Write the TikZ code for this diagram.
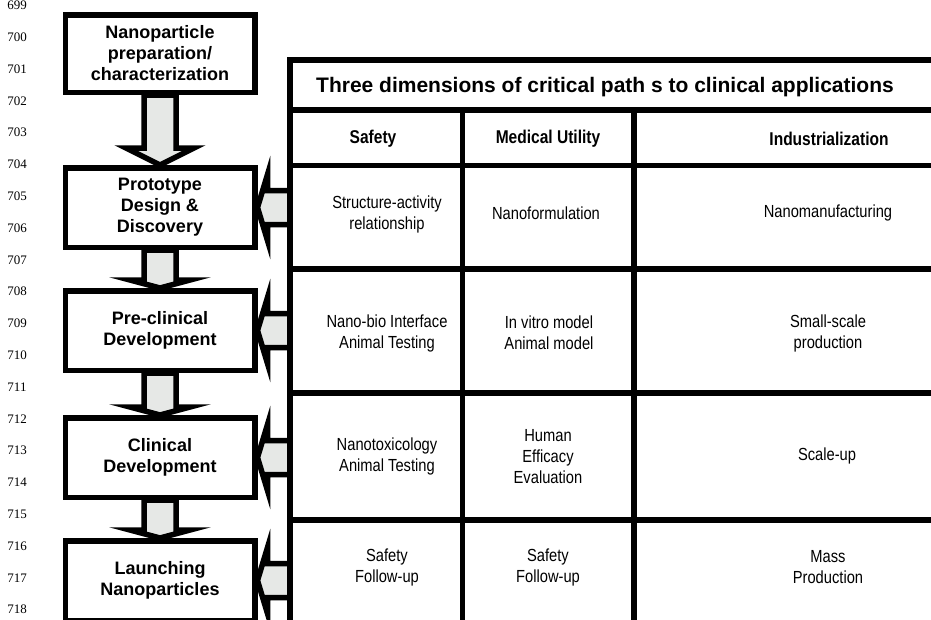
\documentclass[tikz,border=0pt]{standalone}
\usepackage{fontspec}
\setmainfont{Liberation Sans}
\newfontfamily\narrowfont[FakeStretch=0.84]{Liberation Sans}
\newfontfamily\numfont{Liberation Serif}
\usetikzlibrary{calc,backgrounds}
\definecolor{arrowgrey}{HTML}{E6E8E6}

\begin{document}
\begin{tikzpicture}[x=1pt,y=-1pt,
    stage/.style={draw,line width=5.5pt,fill=white,minimum width=189.5pt,
      minimum height=79.5pt,inner sep=0pt,align=center,
      font=\fontsize{18}{21}\selectfont\bfseries},
    fat/.style={draw,line width=5.5pt,fill=arrowgrey,line join=miter,
      miter limit=20},
    rule/.style={line width=5.5pt},
    cell/.style={align=center,font=\narrowfont\fontsize{17.5}{21}\selectfont},
    colhead/.style={font=\narrowfont\bfseries\fontsize{18.5}{21}\selectfont},
    lineno/.style={font=\numfont\fontsize{13}{13}\selectfont}]

  \useasboundingbox (0,0) rectangle (931,619);

  % line numbers of the proof
  \foreach \n [count=\i from 0] in {699,...,718}
    \node[lineno] (ln\n) at (17,5.5+31.8*\i) {\n};

  % stages
  \node[stage,minimum height=77.5pt] (prep) at (160,53.5)
    {Nanoparticle\\preparation/\\characterization};
  \node[stage] (proto) at (160,207.5) {Prototype\\Design \&\\Discovery};
  \node[stage] (pre) at (160,330.5) {Pre-clinical\\Development};
  \node[stage] (clin) at (160,457.5) {Clinical\\Development};
  \node[stage] (lau) at (160,580.5) {Launching\\Nanoparticles};

  \coordinate (tabL) at (290,60);

  \begin{scope}[on background layer]
    \draw[fat] ($(prep.south)+(-16,0)$) -- ($(proto.north)+(-16,-17)$)
      -- ($(proto.north)+(-34,-17)$) -- (proto.north)
      -- ($(proto.north)+(34,-17)$) -- ($(proto.north)+(16,-17)$)
      -- ($(prep.south)+(16,0)$) -- cycle;
    \foreach \a/\b in {proto/pre,pre/clin,clin/lau}
      \draw[fat] ($(\a.south)+(-16,0)$) -- ($(\b.north)+(-16,-8)$)
        -- ($(\b.north)+(-30,-8)$) -- (\b.north)
        -- ($(\b.north)+(30,-8)$) -- ($(\b.north)+(16,-8)$)
        -- ($(\a.south)+(16,0)$) -- cycle;
    \foreach \b in {proto,pre,clin,lau}
      \draw[fat] ($(\b.east -| tabL)+(0,-17)$) -- ($(\b.east)+(10,-17)$)
        -- ($(\b.east)+(10,-33)$) -- (\b.east)
        -- ($(\b.east)+(10,33)$) -- ($(\b.east)+(10,17)$)
        -- ($(\b.east -| tabL)+(0,17)$) -- cycle;
  \end{scope}

  % table
  \draw[rule] (290,625) -- (tabL) -- (935,60);
  \foreach \y in {110,165.5,269,393,520}
    \draw[rule] (290,\y) -- (935,\y);
  \foreach \x in {462.5,634}
    \draw[rule] (\x,110) -- (\x,625);

  \node[font=\bfseries\fontsize{21}{24}\selectfont] (title) at (605,87)
    {Three dimensions of critical path s to clinical applications};

  \node[colhead] (safety) at (373,139) {Safety};
  \node[colhead] (utility) at (548,139) {Medical Utility};
  \node[colhead] (industry) at (829,139) {Industrialization};

  \node[cell] (c11) at (387,214) {Structure-activity\\relationship};
  \node[cell] (c12) at (546,213) {Nanoformulation};
  \node[cell] (c13) at (828,213) {Nanomanufacturing};

  \node[cell] (c21) at (387,333) {Nano-bio Interface\\Animal Testing};
  \node[cell] (c22) at (549,333) {In vitro model\\Animal model};
  \node[cell] (c23) at (828,333) {Small-scale\\production};

  \node[cell] (c31) at (387,456) {Nanotoxicology\\Animal Testing};
  \node[cell] (c32) at (548,457) {Human\\Efficacy\\Evaluation};
  \node[cell] (c33) at (827,456) {Scale-up};

  \node[cell] (c41) at (387,567) {Safety\\Follow-up};
  \node[cell] (c42) at (548,567) {Safety\\Follow-up};
  \node[cell] (c43) at (828,567) {Mass\\Production};

\end{tikzpicture}
\end{document}
